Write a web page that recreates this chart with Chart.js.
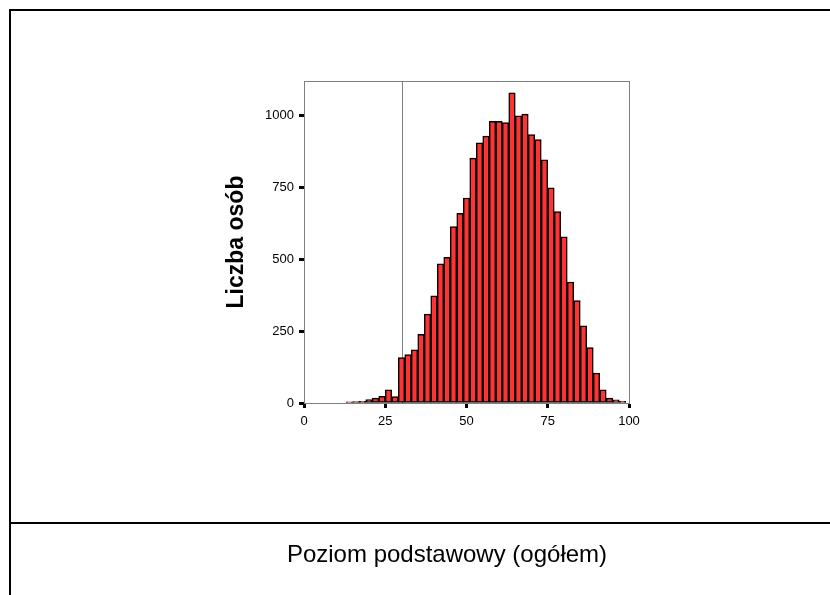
<!DOCTYPE html>
<html>
<head>
<meta charset="utf-8">
<script src="https://cdn.jsdelivr.net/npm/chart.js@4.4.1/dist/chart.umd.min.js"></script>
<style>
    html, body { margin: 0; padding: 0; background: #fff; }
    .page { position: relative; width: 830px; height: 595px; overflow: hidden; font-family: "Liberation Sans", Arial, sans-serif; }
    .frame { position: absolute; left: 9px; top: 9px; width: 900px; height: 700px; border-top: 2px solid #000; border-left: 2px solid #000; }
    .sep { position: absolute; left: 9px; top: 522px; width: 900px; height: 2px; background: #000; }
    .x-title { position: absolute; left: 447px; top: 540px; transform: translateX(-50%); font-size: 24px; white-space: nowrap; color: #000; }
    #hist { position: absolute; left: 0; top: 0; }
</style>
</head>
<body>
<div class="page">
    <div class="frame"></div>
    <div class="sep"></div>
    <canvas id="hist" width="830" height="595"></canvas>
    <div class="x-title">Poziom podstawowy (ogółem)</div>
</div>
<script>
// histogram bins (centre of each 2-point bin) and counts
const bin_centers = [14, 16, 18, 20, 22, 24, 26, 28, 30, 32, 34, 36, 38, 40, 42, 44, 46, 48, 50, 52, 54, 56,
    58, 60, 62, 64, 66, 68, 70, 72, 74, 76, 78, 80, 82, 84, 86, 88, 90, 92, 94, 96, 98];
const counts = [4, 5, 6, 12, 17, 23, 46, 22, 158, 168, 185, 239, 309, 373, 484, 507, 614, 660, 713, 852, 905, 928,
    980, 980, 975, 1079, 999, 1005, 934, 916, 846, 748, 666, 578, 421, 356, 268, 193, 104, 46, 17, 11, 6];

const x_ticks = [0, 25, 50, 75, 100];
const y_ticks = [0, 250, 500, 750, 1000];
const cut_score = 30;

const font_family = '"Liberation Sans", Arial, sans-serif';

// grey frame round the plot + the threshold line behind the bars
const plotFrame = {
    id: 'plotFrame',
    beforeDatasetsDraw(chart) {
        const { ctx, chartArea: a, scales } = chart;
        const x = Math.round(scales.x.getPixelForValue(cut_score)) + 0.5;
        ctx.save();
        ctx.strokeStyle = '#808080';
        ctx.lineWidth = 1;
        ctx.beginPath();
        ctx.moveTo(x, a.top);
        ctx.lineTo(x, a.bottom);
        ctx.stroke();
        ctx.strokeRect(Math.round(a.left) + 0.5, Math.round(a.top) + 0.5, Math.round(a.right - a.left), Math.round(a.bottom - a.top));
        ctx.restore();
    }
};

(function () {
    const canvas = document.getElementById('hist');

    const data = {
        datasets: [{
            label: 'Liczba osób',
            data: bin_centers.map((c, i) => ({ x: c, y: counts[i] })),
            backgroundColor: '#ff3333',
            borderColor: '#000',
            borderWidth: 1.5,
            borderSkipped: false,
            barPercentage: 1,
            categoryPercentage: 1,
        }]
    };

    const config = {
        type: 'bar',
        data: data,
        options: {
            responsive: false,
            animation: false,
            layout: { padding: { left: 214, right: 201, top: 81, bottom: 152 } },
            plugins: { legend: { display: false }, tooltip: { enabled: false } },
            scales: {
                x: {
                    type: 'linear',
                    min: 0,
                    max: 100,
                    offset: false,
                    afterBuildTicks: (s) => { s.ticks = x_ticks.map(v => ({ value: v })); },
                    afterFit: (s) => { s.height = 40; },
                    grid: { display: true, offset: false, drawOnChartArea: false, drawTicks: true, tickLength: 5, tickWidth: 3, tickColor: '#000' },
                    border: { display: true, color: '#808080', width: 1 },
                    ticks: { color: '#000', padding: 6, maxRotation: 0, callback: (v) => String(v), font: { family: font_family, size: 13 } },
                },
                y: {
                    min: 0,
                    max: 1120,
                    afterBuildTicks: (s) => { s.ticks = y_ticks.map(v => ({ value: v })); },
                    afterFit: (s) => { s.width = 90; },
                    grid: { display: true, drawOnChartArea: false, drawTicks: true, tickLength: 5, tickWidth: 3, tickColor: '#000' },
                    border: { display: true, color: '#808080', width: 1 },
                    ticks: { color: '#000', padding: 5, callback: (v) => String(v), font: { family: font_family, size: 13 } },
                    title: {
                        display: true,
                        text: 'Liczba osób',
                        color: '#000',
                        padding: { top: 9, bottom: 0 },
                        font: { family: font_family, size: 23, weight: 'bold' },
                    },
                },
            },
        },
        plugins: [plotFrame],
    };

    new Chart(canvas, config);
})();
</script>
</body>
</html>
